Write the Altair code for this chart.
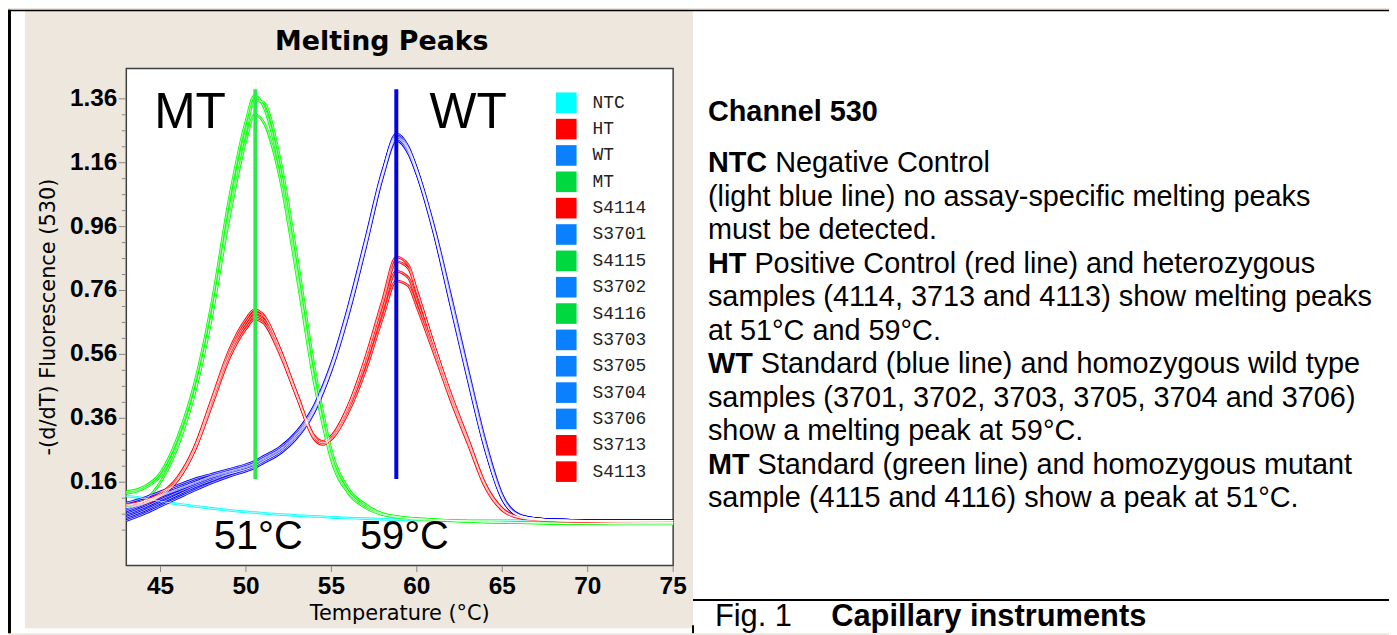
import altair as alt
import pandas as pd

# ---------------- data ----------------
temps = [43, 44, 45, 46, 47, 48, 49, 50, 50.5, 51, 52, 53, 54, 54.5, 55, 56, 57, 58,
         58.8, 59.5, 60, 61, 62, 63, 64, 65, 66, 67, 68, 70, 72, 75]

samples = ["NTC", "HT", "WT", "MT", "S4114", "S3701", "S4115", "S3702", "S4116",
           "S3703", "S3705", "S3704", "S3706", "S3713", "S4113"]
sample_groups = ["NTC", "HT", "WT", "MT", "HT", "WT", "MT", "WT", "MT",
                 "WT", "WT", "WT", "WT", "HT", "HT"]

ntc = [0.117, 0.11, 0.10, 0.092, 0.085, 0.078, 0.072, 0.067, 0.065, 0.063, 0.059, 0.056, 0.053, 0.052, 0.05, 0.048,
       0.046, 0.044, 0.043, 0.042, 0.042, 0.041, 0.041, 0.04, 0.04, 0.04, 0.04, 0.039, 0.039, 0.039, 0.038, 0.038]
ht = [0.085, 0.095, 0.12, 0.17, 0.27, 0.42, 0.57, 0.67, 0.70, 0.685, 0.575, 0.43, 0.30, 0.283, 0.30, 0.40,
      0.55, 0.73, 0.865, 0.84, 0.76, 0.59, 0.43, 0.29, 0.15, 0.075, 0.05, 0.043, 0.04, 0.037, 0.036, 0.035]
wt = [0.07, 0.09, 0.115, 0.135, 0.155, 0.175, 0.19, 0.205, 0.215, 0.23, 0.26, 0.31, 0.39, 0.45, 0.52, 0.70,
      0.91, 1.13, 1.25, 1.21, 1.14, 0.95, 0.72, 0.49, 0.27, 0.11, 0.055, 0.045, 0.042, 0.04, 0.04, 0.04]
mt = [0.13, 0.145, 0.19, 0.30, 0.47, 0.72, 1.04, 1.29, 1.37, 1.34, 1.14, 0.82, 0.48, 0.35, 0.24, 0.13,
      0.085, 0.06, 0.052, 0.048, 0.046, 0.043, 0.04, 0.038, 0.036, 0.035, 0.034, 0.033, 0.032, 0.031, 0.03, 0.03]
s4114 = [0.08, 0.092, 0.115, 0.165, 0.26, 0.41, 0.56, 0.66, 0.69, 0.68, 0.575, 0.435, 0.305, 0.288, 0.305, 0.40,
         0.545, 0.72, 0.85, 0.83, 0.755, 0.59, 0.435, 0.295, 0.155, 0.078, 0.05, 0.043, 0.04, 0.037, 0.036, 0.035]
s3701 = [0.085, 0.1, 0.12, 0.14, 0.16, 0.18, 0.195, 0.21, 0.22, 0.235, 0.265, 0.315, 0.395, 0.455, 0.525, 0.705,
         0.915, 1.13, 1.245, 1.205, 1.135, 0.945, 0.715, 0.485, 0.265, 0.108, 0.054, 0.045, 0.042, 0.04, 0.04, 0.04]
s4115 = [0.125, 0.14, 0.18, 0.28, 0.44, 0.68, 1.0, 1.26, 1.355, 1.35, 1.17, 0.86, 0.52, 0.38, 0.26, 0.14,
         0.09, 0.062, 0.053, 0.048, 0.046, 0.043, 0.04, 0.038, 0.036, 0.035, 0.034, 0.033, 0.032, 0.031, 0.03, 0.03]
s3702 = [0.05, 0.07, 0.095, 0.12, 0.145, 0.165, 0.185, 0.2, 0.21, 0.225, 0.255, 0.305, 0.385, 0.445, 0.515, 0.695,
         0.905, 1.125, 1.24, 1.20, 1.135, 0.955, 0.73, 0.50, 0.28, 0.115, 0.057, 0.046, 0.042, 0.04, 0.04, 0.04]
s4116 = [0.08, 0.1, 0.16, 0.27, 0.44, 0.68, 0.98, 1.23, 1.31, 1.29, 1.11, 0.80, 0.47, 0.34, 0.23, 0.125,
         0.08, 0.058, 0.05, 0.046, 0.044, 0.041, 0.039, 0.037, 0.035, 0.034, 0.033, 0.032, 0.031, 0.03, 0.029, 0.029]
s3703 = [0.095, 0.11, 0.13, 0.15, 0.17, 0.185, 0.2, 0.215, 0.225, 0.24, 0.27, 0.32, 0.40, 0.46, 0.53, 0.71,
         0.92, 1.135, 1.24, 1.205, 1.14, 0.96, 0.74, 0.51, 0.29, 0.12, 0.058, 0.046, 0.042, 0.04, 0.04, 0.04]
s3705 = [0.06, 0.08, 0.105, 0.128, 0.15, 0.17, 0.186, 0.2, 0.21, 0.226, 0.256, 0.305, 0.385, 0.445, 0.515, 0.69,
         0.90, 1.12, 1.235, 1.195, 1.125, 0.94, 0.71, 0.48, 0.265, 0.108, 0.054, 0.045, 0.042, 0.04, 0.04, 0.04]
s3704 = [0.04, 0.06, 0.085, 0.11, 0.135, 0.158, 0.178, 0.195, 0.205, 0.22, 0.25, 0.30, 0.38, 0.44, 0.51, 0.685,
         0.895, 1.115, 1.23, 1.19, 1.125, 0.945, 0.72, 0.495, 0.275, 0.112, 0.056, 0.046, 0.042, 0.04, 0.04, 0.04]
s3706 = [0.075, 0.093, 0.117, 0.138, 0.158, 0.178, 0.193, 0.208, 0.218, 0.233, 0.263, 0.312, 0.392, 0.452, 0.522, 0.70,
         0.91, 1.125, 1.235, 1.20, 1.13, 0.95, 0.725, 0.495, 0.275, 0.112, 0.056, 0.046, 0.042, 0.04, 0.04, 0.04]
s3713 = [0.09, 0.1, 0.125, 0.175, 0.27, 0.415, 0.555, 0.65, 0.68, 0.67, 0.565, 0.425, 0.295, 0.278, 0.295, 0.39,
         0.53, 0.70, 0.82, 0.80, 0.73, 0.575, 0.42, 0.285, 0.15, 0.075, 0.05, 0.043, 0.04, 0.037, 0.035, 0.034]
s4113 = [0.088, 0.098, 0.12, 0.168, 0.26, 0.40, 0.545, 0.64, 0.67, 0.66, 0.56, 0.425, 0.30, 0.283, 0.295, 0.38,
         0.51, 0.675, 0.79, 0.775, 0.71, 0.565, 0.415, 0.28, 0.145, 0.072, 0.048, 0.042, 0.039, 0.036, 0.035, 0.034]

series = [ntc, ht, wt, mt, s4114, s3701, s4115, s3702, s4116, s3703, s3705, s3704, s3706, s3713, s4113]

# peak marker rules (temperature, top, bottom)
rule_groups = ["MT", "WT"]
rule_temps = [50.55, 58.8]
rule_tops = [1.39, 1.39]
rule_bottoms = [0.17, 0.17]

x_ticks = [45, 50, 55, 60, 65, 70, 75]
x_labels = ["45", "50", "55", "60", "65", "70", "75"]
y_major = [0.16, 0.36, 0.56, 0.76, 0.96, 1.16, 1.36]
y_labels = ["0.16", "0.36", "0.56", "0.76", "0.96", "1.16", "1.36"]
y_minor = [0.01, 0.06, 0.11, 0.21, 0.26, 0.31, 0.41, 0.46, 0.51, 0.61, 0.66, 0.71, 0.81, 0.86,
           0.91, 1.01, 1.06, 1.11, 1.21, 1.26, 1.31]
x_title = "Temperature (°C)"
y_title = "-(d/dT) Fluorescence (530)"
chart_title = "Melting Peaks"

groups = ["NTC", "HT", "WT", "MT"]
line_colors = ["#00FFFF", "#FF0000", "#0000FF", "#00FF00"]
swatch_colors = ["#00FFFF", "#FF0000", "#0A80FF", "#00D840"]
rule_colors = ["#2BEB4B", "#0000EE"]

heading = "Channel 530"
para_bold = ["NTC", "", "", "HT", "", "", "WT", "", "", "MT", ""]
para_text = [
    "Negative Control",
    "(light blue line) no assay-specific melting peaks",
    "must be detected.",
    "Positive Control (red line) and heterozygous",
    "samples (4114, 3713 and 4113) show melting peaks",
    "at 51°C and 59°C.",
    "Standard (blue line) and homozygous wild type",
    "samples (3701, 3702, 3703, 3705, 3704 and 3706)",
    "show a melting peak at 59°C.",
    "Standard (green line) and homozygous mutant",
    "sample (4115 and 4116) show a peak at 51°C.",
]

# ---------------- build tables ----------------
rows = []
for name, grp, vals in zip(samples, sample_groups, series):
    assert len(vals) == len(temps), name
    for t, v in zip(temps, vals):
        rows.append({"sample": name, "group": grp, "temp": t, "value": v})
df = pd.DataFrame(rows)

rules_df = pd.DataFrame({"group": rule_groups, "temp": rule_temps,
                         "value": rule_tops, "value2": rule_bottoms})
grp_color = dict(zip(groups, swatch_colors))
legend_df = pd.DataFrame({"sample": samples, "temp": [60] * len(samples), "value": [0.5] * len(samples)})
xt_df = pd.DataFrame({"temp": x_ticks, "label": x_labels})
yt_df = pd.DataFrame({"value": y_major, "label": y_labels})
ym_df = pd.DataFrame({"value": y_minor})
one = pd.DataFrame({"k": [0]})

x_scale = alt.Scale(domain=[43, 75], nice=False, zero=False)
y_scale = alt.Scale(domain=[-0.101, 1.455], nice=False, zero=False)
X = lambda: alt.X("temp:Q", scale=x_scale, axis=None)
Y = lambda: alt.Y("value:Q", scale=y_scale, axis=None)


def rect(x1, x2, y1, y2, **kw):
    return alt.Chart(one).mark_rect(**kw).encode(
        x=alt.value(x1), x2=alt.value(x2), y=alt.value(y1), y2=alt.value(y2))


def txt(s, x, y, size, weight="normal", font="Liberation Sans", align="left", **kw):
    return alt.Chart(one).mark_text(text=s, align=align, baseline="alphabetic", fontSize=size,
                                    fontWeight=weight, font=font, color="#000000", **kw).encode(
        x=alt.value(x), y=alt.value(y))


layers = []
# the whole canvas is beige; white areas around the beige panel
layers.append(rect(-119, -102, -59, 568, color="#FFFFFF"))
layers.append(rect(570, 1270, -59, 568, color="#FFFFFF"))
layers.append(rect(-119, 570, 563, 568, color="#FFFFFF"))
layers.append(rect(0, 550, 0, 500, fill="#FFFFFF", stroke="#404040", strokeWidth=1.5))
layers.append(rect(-119, 1270, -59, -57.5, color="#000000"))
layers.append(rect(-119, -116, -59, 568, color="#000000"))
layers.append(rect(570, 1270, 533.5, 535.5, color="#000000"))
layers.append(rect(569, 571, 560, 568, color="#000000"))

# axes: ticks and labels placed through the x / y scales
layers.append(alt.Chart(ym_df).mark_rule(color="#888888", strokeWidth=1).encode(
    x=alt.value(-4.5), x2=alt.value(-0.5), y=Y()))
layers.append(alt.Chart(yt_df).mark_rule(color="#888888", strokeWidth=1).encode(
    x=alt.value(-7.5), x2=alt.value(-0.5), y=Y()))
layers.append(alt.Chart(yt_df).mark_text(align="right", baseline="middle", font="Liberation Sans",
                                         fontSize=24.5, fontWeight="bold", color="#000000").encode(
    x=alt.value(-9), y=Y(), text="label:N"))
layers.append(alt.Chart(xt_df).mark_rule(color="#888888", strokeWidth=1).encode(
    x=X(), y=alt.value(500.5), y2=alt.value(506.5)))
layers.append(alt.Chart(xt_df).mark_text(align="center", baseline="alphabetic", font="Liberation Sans",
                                         fontSize=24.5, fontWeight="bold", color="#000000").encode(
    x=X(), y=alt.value(528.5), text="label:N"))
layers.append(txt(x_title, 275, 554.5, 21, font="DejaVu Sans", align="center"))
layers.append(txt(y_title, -72, 250, 21, font="DejaVu Sans", align="center", angle=270))

# melting curves
layers.append(alt.Chart(df).mark_line(strokeWidth=2.6, interpolate="monotone").encode(
    x=X(), y=Y(), detail="sample:N",
    stroke=alt.Stroke("group:N", scale=alt.Scale(domain=groups, range=line_colors), legend=None)))
layers.append(alt.Chart(df).mark_line(strokeWidth=0.8, interpolate="monotone", color="#FFFFFF",
                                      opacity=0.85).encode(x=X(), y=Y(), detail="sample:N"))

# peak rules
layers.append(alt.Chart(rules_df).mark_rule(strokeWidth=4).encode(
    x=X(), y=Y(), y2="value2:Q",
    color=alt.Color("group:N", scale=alt.Scale(domain=rule_groups, range=rule_colors), legend=None)))

# annotations inside the plot
layers.append(txt("MT", 28, 60, 50))
layers.append(txt("WT", 305, 60, 50))
layers.append(txt("51°C", 88, 483, 40))
layers.append(txt("59°C", 235, 483, 40))

# legend (swatches) from the sample scale
layers.append(alt.Chart(legend_df).mark_square(opacity=0, size=10).encode(
    x=X(), y=Y(),
    fill=alt.Fill("sample:N",
                  scale=alt.Scale(domain=samples, range=[grp_color[g] for g in sample_groups]),
                  legend=alt.Legend(title=None, orient="none", legendX=432, legendY=24,
                                    symbolType="square", symbolSize=430, symbolStrokeWidth=0,
                                    symbolOpacity=1, labelFont="Liberation Mono", labelFontSize=18,
                                    labelColor="#222222", labelOffset=16, rowPadding=5.5, padding=0,
                                    direction="vertical"))))

# chart title
layers.append(txt(chart_title, 257, -19, 27, weight="bold", font="DejaVu Sans", align="center"))

# right-hand text panel
FS = 29
bold_em = {"NTC": 2.055, "HT": 1.333, "WT": 1.555, "MT": 1.444}
layers.append(txt(heading, 585, 53, FS, weight="bold"))
for i, (b, s) in enumerate(zip(para_bold, para_text)):
    y = 104.5 + 33.7 * i
    x = 585
    if b:
        layers.append(txt(b, 585, y, FS, weight="bold"))
        x = 585 + (bold_em[b] + 0.278) * FS
    layers.append(txt(s, x, y, FS))
layers.append(txt("Fig. 1", 592, 561, 31))
layers.append(txt("Capillary instruments", 709, 561, 31, weight="bold"))

chart = alt.layer(*layers).properties(
    width=550, height=500,
    autosize=alt.AutoSizeParams(type="none"),
    padding={"left": 119, "top": 59, "right": 720, "bottom": 68},
    background="#EDE7DE",
).configure_view(strokeWidth=0)

chart.save("out.html", embed_options={"renderer": "svg", "actions": False})
